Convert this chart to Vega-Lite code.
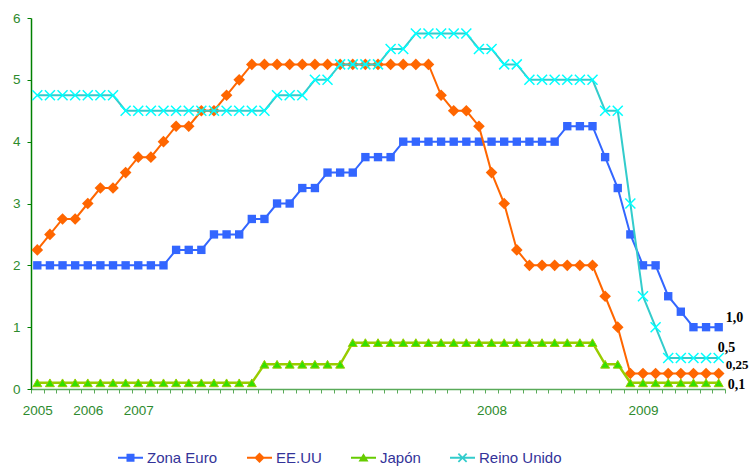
{
  "$schema": "https://vega.github.io/schema/vega-lite/v6.json",
  "autosize": {"type": "none"},
  "padding": {"left": 31, "top": 18, "right": 25, "bottom": 77},
  "width": 694,
  "height": 371,
  "background": "white",
  "config": {"view": {"stroke": null}},
  "datasets": {
    "ze": [{"i":0,"v":2},{"i":1,"v":2},{"i":2,"v":2},{"i":3,"v":2},{"i":4,"v":2},{"i":5,"v":2},{"i":6,"v":2},{"i":7,"v":2},{"i":8,"v":2},{"i":9,"v":2},{"i":10,"v":2},{"i":11,"v":2.25},{"i":12,"v":2.25},{"i":13,"v":2.25},{"i":14,"v":2.5},{"i":15,"v":2.5},{"i":16,"v":2.5},{"i":17,"v":2.75},{"i":18,"v":2.75},{"i":19,"v":3},{"i":20,"v":3},{"i":21,"v":3.25},{"i":22,"v":3.25},{"i":23,"v":3.5},{"i":24,"v":3.5},{"i":25,"v":3.5},{"i":26,"v":3.75},{"i":27,"v":3.75},{"i":28,"v":3.75},{"i":29,"v":4},{"i":30,"v":4},{"i":31,"v":4},{"i":32,"v":4},{"i":33,"v":4},{"i":34,"v":4},{"i":35,"v":4},{"i":36,"v":4},{"i":37,"v":4},{"i":38,"v":4},{"i":39,"v":4},{"i":40,"v":4},{"i":41,"v":4},{"i":42,"v":4.25},{"i":43,"v":4.25},{"i":44,"v":4.25},{"i":45,"v":3.75},{"i":46,"v":3.25},{"i":47,"v":2.5},{"i":48,"v":2},{"i":49,"v":2},{"i":50,"v":1.5},{"i":51,"v":1.25},{"i":52,"v":1},{"i":53,"v":1},{"i":54,"v":1}],
    "us": [{"i":0,"v":2.25},{"i":1,"v":2.5},{"i":2,"v":2.75},{"i":3,"v":2.75},{"i":4,"v":3},{"i":5,"v":3.25},{"i":6,"v":3.25},{"i":7,"v":3.5},{"i":8,"v":3.75},{"i":9,"v":3.75},{"i":10,"v":4},{"i":11,"v":4.25},{"i":12,"v":4.25},{"i":13,"v":4.5},{"i":14,"v":4.5},{"i":15,"v":4.75},{"i":16,"v":5},{"i":17,"v":5.25},{"i":18,"v":5.25},{"i":19,"v":5.25},{"i":20,"v":5.25},{"i":21,"v":5.25},{"i":22,"v":5.25},{"i":23,"v":5.25},{"i":24,"v":5.25},{"i":25,"v":5.25},{"i":26,"v":5.25},{"i":27,"v":5.25},{"i":28,"v":5.25},{"i":29,"v":5.25},{"i":30,"v":5.25},{"i":31,"v":5.25},{"i":32,"v":4.75},{"i":33,"v":4.5},{"i":34,"v":4.5},{"i":35,"v":4.25},{"i":36,"v":3.5},{"i":37,"v":3},{"i":38,"v":2.25},{"i":39,"v":2},{"i":40,"v":2},{"i":41,"v":2},{"i":42,"v":2},{"i":43,"v":2},{"i":44,"v":2},{"i":45,"v":1.5},{"i":46,"v":1},{"i":47,"v":0.25},{"i":48,"v":0.25},{"i":49,"v":0.25},{"i":50,"v":0.25},{"i":51,"v":0.25},{"i":52,"v":0.25},{"i":53,"v":0.25},{"i":54,"v":0.25}],
    "jp": [{"i":0,"v":0.1},{"i":1,"v":0.1},{"i":2,"v":0.1},{"i":3,"v":0.1},{"i":4,"v":0.1},{"i":5,"v":0.1},{"i":6,"v":0.1},{"i":7,"v":0.1},{"i":8,"v":0.1},{"i":9,"v":0.1},{"i":10,"v":0.1},{"i":11,"v":0.1},{"i":12,"v":0.1},{"i":13,"v":0.1},{"i":14,"v":0.1},{"i":15,"v":0.1},{"i":16,"v":0.1},{"i":17,"v":0.1},{"i":18,"v":0.4},{"i":19,"v":0.4},{"i":20,"v":0.4},{"i":21,"v":0.4},{"i":22,"v":0.4},{"i":23,"v":0.4},{"i":24,"v":0.4},{"i":25,"v":0.75},{"i":26,"v":0.75},{"i":27,"v":0.75},{"i":28,"v":0.75},{"i":29,"v":0.75},{"i":30,"v":0.75},{"i":31,"v":0.75},{"i":32,"v":0.75},{"i":33,"v":0.75},{"i":34,"v":0.75},{"i":35,"v":0.75},{"i":36,"v":0.75},{"i":37,"v":0.75},{"i":38,"v":0.75},{"i":39,"v":0.75},{"i":40,"v":0.75},{"i":41,"v":0.75},{"i":42,"v":0.75},{"i":43,"v":0.75},{"i":44,"v":0.75},{"i":45,"v":0.4},{"i":46,"v":0.4},{"i":47,"v":0.1},{"i":48,"v":0.1},{"i":49,"v":0.1},{"i":50,"v":0.1},{"i":51,"v":0.1},{"i":52,"v":0.1},{"i":53,"v":0.1},{"i":54,"v":0.1}],
    "uk": [{"i":0,"v":4.75},{"i":1,"v":4.75},{"i":2,"v":4.75},{"i":3,"v":4.75},{"i":4,"v":4.75},{"i":5,"v":4.75},{"i":6,"v":4.75},{"i":7,"v":4.5},{"i":8,"v":4.5},{"i":9,"v":4.5},{"i":10,"v":4.5},{"i":11,"v":4.5},{"i":12,"v":4.5},{"i":13,"v":4.5},{"i":14,"v":4.5},{"i":15,"v":4.5},{"i":16,"v":4.5},{"i":17,"v":4.5},{"i":18,"v":4.5},{"i":19,"v":4.75},{"i":20,"v":4.75},{"i":21,"v":4.75},{"i":22,"v":5},{"i":23,"v":5},{"i":24,"v":5.25},{"i":25,"v":5.25},{"i":26,"v":5.25},{"i":27,"v":5.25},{"i":28,"v":5.5},{"i":29,"v":5.5},{"i":30,"v":5.75},{"i":31,"v":5.75},{"i":32,"v":5.75},{"i":33,"v":5.75},{"i":34,"v":5.75},{"i":35,"v":5.5},{"i":36,"v":5.5},{"i":37,"v":5.25},{"i":38,"v":5.25},{"i":39,"v":5},{"i":40,"v":5},{"i":41,"v":5},{"i":42,"v":5},{"i":43,"v":5},{"i":44,"v":5},{"i":45,"v":4.5},{"i":46,"v":4.5},{"i":47,"v":3},{"i":48,"v":1.5},{"i":49,"v":1},{"i":50,"v":0.5},{"i":51,"v":0.5},{"i":52,"v":0.5},{"i":53,"v":0.5},{"i":54,"v":0.5}]
  },
  "encoding": {
    "x": {
      "field": "i", "type": "quantitative",
      "scale": {"domain": [-0.5, 54.5], "nice": false, "zero": false},
      "axis": {
        "title": null, "grid": false,
        "values": [-0.5,0,0.5,1.5,2.5,3.5,4,4.5,5.5,6.5,7.5,8,8.5,9.5,10.5,11.5,12.5,13.5,14.5,15.5,16.5,17.5,18.5,19.5,20.5,21.5,22.5,23.5,24.5,25.5,26.5,27.5,28.5,29.5,30.5,31.5,32.5,33.5,34.5,35.5,36,36.5,37.5,38.5,39.5,40.5,41.5,42.5,43.5,44.5,45.5,46.5,47.5,48,48.5,49.5,50.5,51.5,52.5,53.5,54.5],
        "domainColor": "#5aaa5a", "domainWidth": 1.5,
        "tickColor": "#5aaa5a", "tickSize": 4, "tickWidth": 1,
        "tickOpacity": {"condition": {"test": "datum.value % 1 != 0", "value": 1}, "value": 0},
        "labelExpr": "datum.value == 0 ? '2005' : datum.value == 4 ? '2006' : datum.value == 8 ? '2007' : datum.value == 36 ? '2008' : datum.value == 48 ? '2009' : ''",
        "labelColor": "#2e8b2e", "labelFont": "Liberation Sans", "labelFontSize": 13.5,
        "labelPadding": 10, "labelOverlap": false, "labelFlush": false, "labelBound": false
      }
    },
    "y": {
      "field": "v", "type": "quantitative",
      "scale": {"domain": [0, 6], "nice": false},
      "axis": {
        "title": null, "grid": false, "values": [0,1,2,3,4,5,6],
        "domainColor": "#008000", "domainWidth": 1.5,
        "tickColor": "#008000", "tickSize": 4,
        "labelColor": "#2e8b2e", "labelFont": "Liberation Sans", "labelFontSize": 13.5,
        "labelPadding": 7
      }
    }
  },
  "layer": [
    {"data": {"name": "ze"}, "mark": {"type": "line", "color": "#3366ff", "strokeWidth": 2}},
    {"data": {"name": "ze"}, "mark": {"type": "point", "shape": "square", "filled": true, "color": "#3366ff", "size": 70, "opacity": 1}},
    {"data": {"name": "us"}, "mark": {"type": "line", "color": "#ff6600", "strokeWidth": 2}},
    {"data": {"name": "us"}, "mark": {"type": "point", "shape": "diamond", "filled": true, "color": "#ff6600", "size": 135, "opacity": 1}},
    {"data": {"name": "jp"}, "mark": {"type": "line", "color": "#99cc00", "strokeWidth": 2.5}},
    {"data": {"name": "jp"}, "mark": {"type": "point", "shape": "triangle-up", "filled": true, "fill": "#33e000", "stroke": "#99cc00", "strokeWidth": 1, "size": 80, "opacity": 1}},
    {"data": {"name": "uk"}, "mark": {"type": "line", "color": "#33cccc", "strokeWidth": 2}},
    {"data": {"name": "uk"}, "mark": {"type": "point", "shape": "M-1,-1L1,1M-1,1L1,-1", "filled": false, "stroke": "#00ffff", "strokeWidth": 1.5, "size": 100, "opacity": 1}},
    {
      "data": {"name": "ze"},
      "transform": [{"filter": "datum.i < 0"}],
      "mark": {"type": "point", "filled": true, "opacity": 1},
      "encoding": {
        "shape": {
          "field": "s", "type": "nominal",
          "scale": {"domain": ["Zona Euro", "EE.UU", "Japón", "Reino Unido"],
            "range": [
              "M-1,-0.08H1V0.08H-1Z M-0.32,-0.32H0.32V0.32H-0.32Z",
              "M-1,-0.08H1V0.08H-1Z M0,-0.42L0.42,0L0,0.42L-0.42,0Z",
              "M-1,-0.08H1V0.08H-1Z M0,-0.36L0.4,0.3H-0.4Z",
              "M-1,-0.08H1V0.08H-1Z M-0.38,-0.28L-0.28,-0.38L0,-0.1L0.28,-0.38L0.38,-0.28L0.1,0L0.38,0.28L0.28,0.38L0,0.1L-0.28,0.38L-0.38,0.28L-0.1,0Z"
            ]},
          "legend": {"title": null, "orient": "none", "legendX": 87, "legendY": 427, "direction": "horizontal", "symbolSize": 625, "labelFont": "Liberation Sans", "labelFontSize": 15, "labelColor": "#333399", "columnPadding": 29, "labelOffset": 4, "padding": 0, "symbolStrokeWidth": 0}
        },
        "color": {
          "field": "s", "type": "nominal",
          "scale": {"domain": ["Zona Euro", "EE.UU", "Japón", "Reino Unido"], "range": ["#3366ff", "#ff6600", "#66cc00", "#33cccc"]},
          "legend": {"title": null, "orient": "none", "legendX": 87, "legendY": 427, "direction": "horizontal", "symbolSize": 625, "labelFont": "Liberation Sans", "labelFontSize": 15, "labelColor": "#333399", "columnPadding": 29, "labelOffset": 4, "padding": 0, "symbolStrokeWidth": 0}
        }
      }
    },
    {"data": {"values": [{"i": 54, "v": 1, "t": "1,0"}]}, "mark": {"type": "text", "align": "left", "baseline": "middle", "dx": 7, "dy": -9, "font": "Liberation Serif", "fontWeight": "bold", "fontSize": 14, "color": "black"}, "encoding": {"text": {"field": "t"}}},
    {"data": {"values": [{"i": 54, "v": 0.5, "t": "0,5"}]}, "mark": {"type": "text", "align": "left", "baseline": "middle", "dx": -1, "dy": -10, "font": "Liberation Serif", "fontWeight": "bold", "fontSize": 14, "color": "black"}, "encoding": {"text": {"field": "t"}}},
    {"data": {"values": [{"i": 54, "v": 0.25, "t": "0,25"}]}, "mark": {"type": "text", "align": "left", "baseline": "middle", "dx": 7, "dy": -9, "font": "Liberation Serif", "fontWeight": "bold", "fontSize": 13, "color": "black"}, "encoding": {"text": {"field": "t"}}},
    {"data": {"values": [{"i": 54, "v": 0.1, "t": "0,1"}]}, "mark": {"type": "text", "align": "left", "baseline": "middle", "dx": 9, "dy": 2, "font": "Liberation Serif", "fontWeight": "bold", "fontSize": 14, "color": "black"}, "encoding": {"text": {"field": "t"}}}
  ]
}
